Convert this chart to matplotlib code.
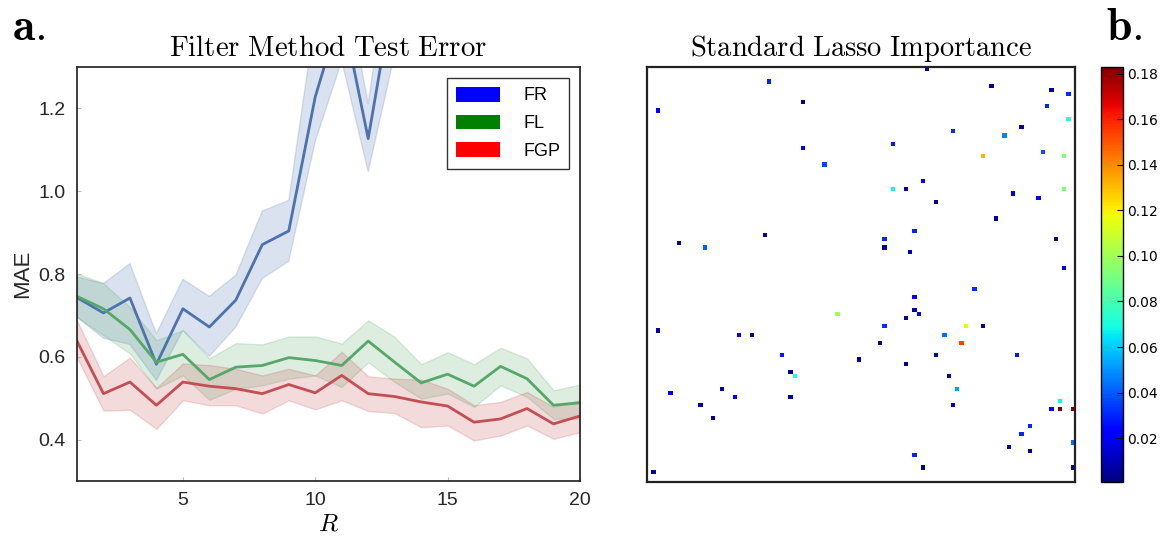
import numpy as np
import matplotlib
matplotlib.use("Agg")
import matplotlib.pyplot as plt
from matplotlib.patches import Patch

plt.rcParams['font.family'] = ['Liberation Sans', 'DejaVu Sans']
plt.rcParams['mathtext.fontset'] = 'cm'

# --- panel a: filter method test error ---
R = list(range(1, 21))

fr_mean = [0.743, 0.706, 0.742, 0.582, 0.716, 0.672, 0.737, 0.871, 0.904, 1.228,
           1.440, 1.127, 1.500, 1.580, 1.660, 1.720, 1.800, 1.860, 1.930, 2.000]
fr_lower = [0.696, 0.645, 0.630, 0.543, 0.664, 0.601, 0.672, 0.789, 0.831, 1.120,
            1.315, 1.047, 1.330, 1.420, 1.500, 1.560, 1.640, 1.700, 1.760, 1.830]
fr_upper = [0.793, 0.777, 0.825, 0.656, 0.787, 0.746, 0.797, 0.952, 0.978, 1.420,
            1.550, 1.212, 1.650, 1.740, 1.820, 1.880, 1.960, 2.020, 2.100, 2.170]

fl_mean = [0.746, 0.716, 0.666, 0.587, 0.606, 0.545, 0.575, 0.579, 0.598, 0.591,
           0.579, 0.638, 0.587, 0.537, 0.558, 0.529, 0.577, 0.547, 0.483, 0.489]
fl_lower = [0.696, 0.652, 0.608, 0.523, 0.555, 0.496, 0.523, 0.531, 0.547, 0.555,
            0.527, 0.587, 0.539, 0.499, 0.511, 0.479, 0.531, 0.503, 0.450, 0.450]
fl_upper = [0.801, 0.778, 0.720, 0.640, 0.664, 0.596, 0.633, 0.630, 0.649, 0.649,
            0.632, 0.688, 0.648, 0.582, 0.611, 0.582, 0.622, 0.596, 0.519, 0.533]

fgp_mean = [0.638, 0.511, 0.539, 0.483, 0.539, 0.529, 0.523, 0.511, 0.533, 0.513,
            0.555, 0.511, 0.504, 0.491, 0.481, 0.442, 0.450, 0.475, 0.438, 0.457]
fgp_lower = [0.598, 0.470, 0.472, 0.426, 0.495, 0.483, 0.483, 0.463, 0.495, 0.473,
             0.495, 0.469, 0.464, 0.430, 0.434, 0.398, 0.410, 0.434, 0.402, 0.418]
fgp_upper = [0.688, 0.553, 0.598, 0.525, 0.584, 0.580, 0.571, 0.555, 0.571, 0.555,
             0.612, 0.553, 0.547, 0.545, 0.523, 0.483, 0.491, 0.515, 0.479, 0.495]

series_names = ['FR', 'FL', 'FGP']
line_colors = ['#4C72B0', '#55A868', '#C44E52']
legend_colors = ['blue', 'green', 'red']

# --- panel b: lasso importance (sparse 100x100 matrix) ---
grid_size = 100
imp_cols = [65, 28, 80, 94, 98, 2, 36, 93, 98, 87, 71, 83, 36, 57, 41, 78, 92, 97, 64, 57,
            60, 67, 85, 91, 97, 81, 27, 7, 13, 55, 62, 55, 61, 95, 97, 76, 62, 62, 63, 60,
            44, 2, 21, 24, 55, 74, 78, 69, 73, 54, 31, 49, 67, 60, 86, 33, 34, 70, 72, 5,
            17, 20, 33, 96, 12, 15, 71, 94, 96, 99, 89, 87, 99, 84, 89, 62, 64, 99, 1]
imp_rows = [0, 3, 4, 5, 6, 10, 8, 9, 12, 14, 15, 16, 19, 18, 23, 21, 20, 21, 27, 29,
            29, 32, 30, 31, 29, 36, 40, 42, 43, 41, 39, 43, 44, 41, 48, 53, 55, 58, 59, 60,
            59, 63, 64, 64, 62, 62, 62, 64, 66, 66, 69, 70, 69, 71, 69, 73, 74, 74, 77, 78,
            77, 79, 79, 80, 81, 84, 81, 82, 82, 82, 86, 88, 90, 91, 92, 93, 96, 96, 97]
imp_vals = [0.005, 0.030, 0.005, 0.005, 0.032, 0.020, 0.005, 0.030, 0.073, 0.005,
            0.032, 0.047, 0.020, 0.028, 0.036, 0.132, 0.038, 0.092, 0.019, 0.068,
            0.005, 0.005, 0.020, 0.023, 0.092, 0.005, 0.005, 0.005, 0.041, 0.030,
            0.030, 0.005, 0.010, 0.005, 0.020, 0.032, 0.020, 0.005, 0.023, 0.005,
            0.100, 0.005, 0.020, 0.005, 0.032, 0.112, 0.005, 0.044, 0.154, 0.005,
            0.028, 0.005, 0.005, 0.005, 0.028, 0.005, 0.070, 0.005, 0.052, 0.023,
            0.005, 0.020, 0.005, 0.068, 0.005, 0.005, 0.010, 0.023, 0.183, 0.181,
            0.030, 0.030, 0.044, 0.005, 0.005, 0.030, 0.005, 0.005, 0.005]
cbar_ticks = [0.02, 0.04, 0.06, 0.08, 0.10, 0.12, 0.14, 0.16, 0.18]


def plot_test_error(ax):
    means = [fr_mean, fl_mean, fgp_mean]
    lowers = [fr_lower, fl_lower, fgp_lower]
    uppers = [fr_upper, fl_upper, fgp_upper]
    for m, lo, up, c in zip(means, lowers, uppers, line_colors):
        ax.fill_between(R, lo, up, color=c, alpha=0.2, linewidth=1)
        ax.plot(R, m, color=c, linewidth=2)

    ax.set_xlim(1, 20)
    ax.set_ylim(0.3, 1.3)
    ax.set_xticks([5, 10, 15, 20])
    ax.set_yticks([0.4, 0.6, 0.8, 1.0, 1.2])
    ax.tick_params(direction='in', length=3, color='#bbbbbb', labelsize=14,
                   labelcolor='#262626', pad=8)
    for s in ax.spines.values():
        s.set_color('#262626')
        s.set_linewidth(1.25)
    ax.set_ylabel('MAE', fontsize=16, color='#262626', labelpad=4)
    ax.set_xlabel('$R$', fontsize=18, labelpad=2)
    ax.set_title(r'$\mathrm{Filter\ Method\ Test\ Error}$', fontsize=20.8, pad=8)

    handles = [Patch(facecolor=c, edgecolor='none') for c in legend_colors]
    leg = ax.legend(handles, series_names, loc='upper right', fontsize=13,
                    fancybox=False, framealpha=1, handlelength=2.44,
                    handleheight=0.88, borderpad=0.5, labelspacing=0.56,
                    handletextpad=1.27, borderaxespad=0.6)
    leg.get_frame().set_edgecolor('#333333')
    leg.get_frame().set_linewidth(1.0)


def plot_importance(ax, cax):
    grid = np.zeros((grid_size, grid_size))
    grid[imp_rows, imp_cols] = imp_vals
    masked = np.ma.masked_equal(grid, 0)
    cmap = plt.get_cmap('jet').copy()
    cmap.set_bad('white')
    im = ax.imshow(masked, cmap=cmap, vmin=0.0007, vmax=0.183,
                   interpolation='nearest', aspect='auto')
    ax.set_xticks([])
    ax.set_yticks([])
    for s in ax.spines.values():
        s.set_color('#222222')
        s.set_linewidth(1.6)
    ax.set_title(r'$\mathrm{Standard\ Lasso\ Importance}$', fontsize=20.5, pad=8)

    cb = plt.colorbar(im, cax=cax, ticks=cbar_ticks)
    cb.ax.tick_params(direction='in', length=4, labelsize=10, pad=3,
                      labelfontfamily='DejaVu Sans')
    cb.ax.set_yticklabels([f'{t:.2f}' for t in cbar_ticks])
    cb.outline.set_linewidth(1.0)


fig = plt.figure(figsize=(11.7, 5.37), dpi=100)
ax_a = fig.add_axes([0.0658, 0.1043, 0.4299, 0.7709])
ax_b = fig.add_axes([0.5530, 0.1024, 0.3658, 0.7728])
cax = fig.add_axes([0.9410, 0.1024, 0.0188, 0.7728])

plot_test_error(ax_a)
plot_importance(ax_b, cax)

fig.text(0.010, 0.925, r'$\mathbf{a.}$', fontsize=33)
fig.text(0.945, 0.925, r'$\mathbf{b.}$', fontsize=33)

fig.savefig('out.png', dpi=100)
